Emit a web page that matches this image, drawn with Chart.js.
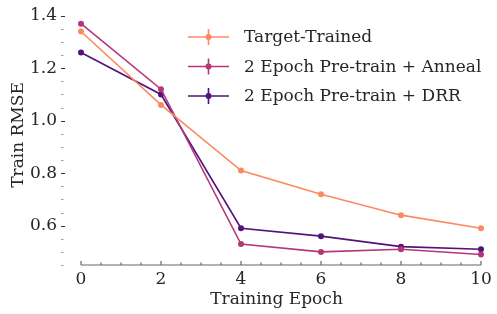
<!DOCTYPE html>
<html>
<head>
<meta charset="utf-8">
<script src="https://cdn.jsdelivr.net/npm/chart.js@4"></script>
<style>
  html, body { margin: 0; padding: 0; background: #fff; }
  #wrap { width: 497px; height: 314px; }
</style>
</head>
<body>
<div id="wrap"><canvas id="grafico"></canvas></div>
<script>
// datos
const epochs = [0, 2, 4, 6, 8, 10];
const targetTrained = [1.34, 1.06, 0.81, 0.72, 0.64, 0.59];
const preAnneal = [1.37, 1.12, 0.53, 0.50, 0.51, 0.49];
const preDRR = [1.26, 1.10, 0.59, 0.56, 0.52, 0.51];
const seriesNames = ['Target-Trained', '2 Epoch Pre-train + Anneal', '2 Epoch Pre-train + DRR'];
const seriesColors = ['#fb8a60', '#b5377a', '#52137c'];
const yTicks = [0.6, 0.8, 1.0, 1.2, 1.4];
const xTicks = [0, 2, 4, 6, 8, 10];

const fuente = "'DejaVu Serif', serif";
const tam = 17;
const textoColor = '#262626';

const series = [targetTrained, preAnneal, preDRR];

// ejes a mano (ticks hacia adentro en x, sin linea en y)
const ejesPlugin = {
    id: 'ejes',
    afterDraw(chart) {
        const ctx = chart.ctx;
        const xs = chart.scales.x, ys = chart.scales.y;
        const area = chart.chartArea;
        ctx.save();
        ctx.strokeStyle = '#666';
        ctx.lineWidth = 1.2;
        const x0 = xs.getPixelForValue(0), x1 = xs.getPixelForValue(10);
        ctx.beginPath();
        ctx.moveTo(x0, area.bottom);
        ctx.lineTo(x1, area.bottom);
        ctx.stroke();
        for (let v = 0; v <= 10.001; v += 0.5) {
            const px = xs.getPixelForValue(v);
            const major = Math.abs(v % 2) < 0.001;
            ctx.beginPath();
            ctx.moveTo(px, area.bottom);
            ctx.lineTo(px, area.bottom - (major ? 4 : 2.5));
            ctx.stroke();
        }
        ctx.lineWidth = 1;
        for (let v = 0.45; v <= 1.401; v += 0.05) {
            const py = Math.round(ys.getPixelForValue(v)) + 0.5;
            const major = yTicks.some(t => Math.abs(t - v) < 0.001);
            ctx.strokeStyle = major ? '#333' : '#999';
            ctx.beginPath();
            ctx.moveTo(area.left - 2, py);
            ctx.lineTo(area.left + (major ? 2 : 0.5), py);
            ctx.stroke();
        }
        ctx.restore();
    }
};

// leyenda con barra de error
const leyendaPlugin = {
    id: 'leyenda',
    afterDraw(chart) {
        const ctx = chart.ctx;
        ctx.save();
        ctx.font = tam + "px " + fuente;
        ctx.textBaseline = 'middle';
        chart.data.datasets.forEach((ds, i) => {
            const y = 37 + i * 29.5;
            ctx.strokeStyle = ds.borderColor;
            ctx.lineWidth = 1.6;
            ctx.beginPath();
            ctx.moveTo(188, y); ctx.lineTo(229, y);
            ctx.moveTo(208.5, y - 8); ctx.lineTo(208.5, y + 8);
            ctx.stroke();
            ctx.fillStyle = ds.borderColor;
            ctx.beginPath();
            ctx.arc(208.5, y, 3, 0, Math.PI * 2);
            ctx.fill();
            ctx.fillStyle = textoColor;
            ctx.fillText(ds.label, 244, y + 1);
        });
        ctx.restore();
    }
};

const ctxGrafico = document.getElementById('grafico').getContext('2d');
const grafico = new Chart(ctxGrafico, {
    type: 'line',
    data: {
        datasets: series.map((vals, i) => ({
            label: seriesNames[i],
            data: epochs.map((e, j) => ({ x: e, y: vals[j] })),
            borderColor: seriesColors[i],
            backgroundColor: seriesColors[i],
            borderWidth: 1.6,
            pointRadius: 3,
            pointBorderWidth: 0,
            tension: 0
        }))
    },
    options: {
        responsive: true,
        maintainAspectRatio: false,
        animation: false,
        layout: { padding: { top: 5, right: 7, left: 0, bottom: 0 } },
        plugins: {
            legend: { display: false },
            tooltip: { enabled: false }
        },
        scales: {
            x: {
                type: 'linear',
                min: -0.45,
                max: 10.225,
                afterBuildTicks: s => { s.ticks = xTicks.map(v => ({ value: v })); },
                afterFit: s => { s.height = 49; s.paddingLeft = 0; s.paddingRight = 0; },
                grid: { display: false, drawTicks: false, tickLength: 0 },
                border: { display: false },
                ticks: {
                    padding: 4,
                    color: textoColor,
                    font: { family: fuente, size: tam },
                    maxRotation: 0
                },
                title: {
                    display: true,
                    text: 'Training Epoch',
                    color: textoColor,
                    font: { family: fuente, size: tam },
                    padding: { top: 0, bottom: 4 }
                }
            },
            y: {
                min: 0.45,
                max: 1.441,
                afterBuildTicks: s => { s.ticks = yTicks.map(v => ({ value: v })); },
                afterFit: s => { s.width = 63; s.paddingTop = 0; s.paddingBottom = 0; },
                grid: { display: false, drawTicks: false, tickLength: 0 },
                border: { display: false },
                ticks: {
                    padding: 6,
                    color: textoColor,
                    font: { family: fuente, size: tam },
                    callback: v => v.toFixed(1)
                },
                title: {
                    display: true,
                    text: 'Train RMSE',
                    color: textoColor,
                    font: { family: fuente, size: tam },
                    padding: { top: 8, bottom: 0 }
                }
            }
        }
    },
    plugins: [ejesPlugin, leyendaPlugin]
});
</script>
</body>
</html>
